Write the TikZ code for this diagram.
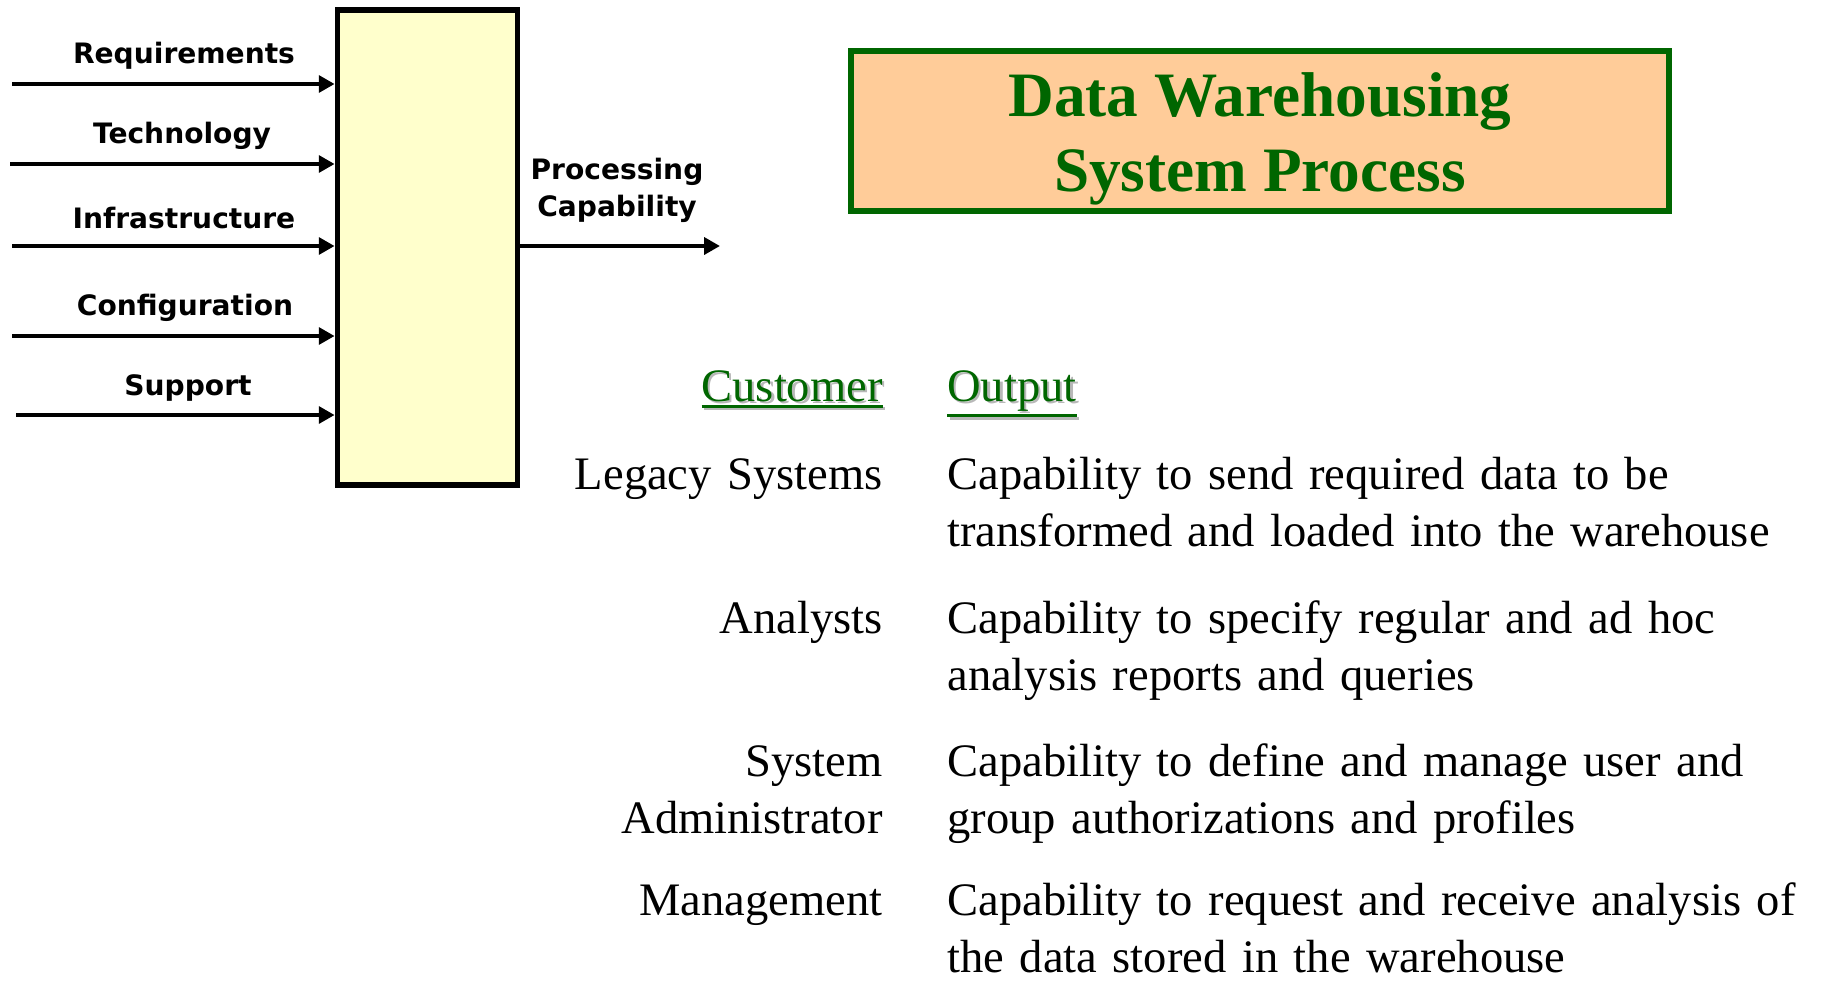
\documentclass[tikz,border=0pt]{standalone}
\usepackage{fontspec}
\setmainfont{Liberation Serif}
\newfontfamily\lblfont{DejaVu Sans}
\usepackage{tikz}
\usetikzlibrary{arrows.meta,positioning}
\definecolor{dwgreen}{RGB}{0,102,0}
\definecolor{dwpeach}{RGB}{255,204,153}
\definecolor{dwyellow}{RGB}{255,255,204}
\newcommand{\hdul}[1]{\vtop{\hbox{#1}\kern2pt\hrule height 1.6pt}}
\newcommand{\hdtext}[1]{\makebox[0pt][l]{\kern1.3pt\raisebox{-1.3pt}{\color{black!28}\hdul{#1}}}\hdul{#1}}
\tikzstyle{arrow} = [line width=2.8pt,-{Triangle[length=9pt,width=9.5pt]}]
\tikzstyle{inlabel} = [font=\lblfont\bfseries\fontsize{16}{21}\selectfont, align=center, inner sep=0pt]
\tikzstyle{process} = [rectangle, draw=black, line width=3pt, fill=dwyellow, inner sep=0pt, minimum width=3.61cm, minimum height=9.5cm]
\tikzstyle{titlebox} = [rectangle, draw=dwgreen, line width=3pt, fill=dwpeach, inner sep=0pt, minimum width=16.36cm, minimum height=3.2cm]
\tikzstyle{titletext} = [text=dwgreen, font=\bfseries\fontsize{36}{43}\selectfont, align=center, inner sep=0pt]
\tikzstyle{head} = [text=dwgreen, font=\fontsize{26.5}{33}\selectfont, inner sep=0pt]
\tikzstyle{cust} = [anchor=base east, text width=9cm, align=right, font=\fontsize{26.5}{33}\selectfont, inner sep=0pt]
\tikzstyle{outp} = [anchor=base west, text width=17.5cm, align=left, font=\fontsize{26.5}{33}\selectfont, inner sep=0pt]

\begin{document}
\begin{tikzpicture}[x=0.02cm, y=-0.02cm]
\useasboundingbox (0,0) rectangle (1822,984);

% Process box and title
\node (box) [process] at (427.5,247.5) {};
\node (title) [titlebox] at (1260,131) {};
\node (titletext) [titletext] at (1260,139) {Data Warehousing\\System Process};

% Inputs
\node (req) [inlabel] at (184,56) {Requirements};
\node (tech) [inlabel] at (182,136) {Technology};
\node (infra) [inlabel] at (184,218) {Infrastructure};
\node (config) [inlabel] at (185,308) {Configuration};
\node (support) [inlabel] at (188,388) {Support};

\coordinate (reqIn) at (12,84);
\coordinate (techIn) at (10,164);
\coordinate (infraIn) at (12,246);
\coordinate (configIn) at (12,336);
\coordinate (supportIn) at (16,415);

\draw[arrow] (reqIn) -- (reqIn -| box.west);
\draw[arrow] (techIn) -- (techIn -| box.west);
\draw[arrow] (infraIn) -- (infraIn -| box.west);
\draw[arrow] (configIn) -- (configIn -| box.west);
\draw[arrow] (supportIn) -- (supportIn -| box.west);

% Output
\node (proc) [inlabel] at (617,190) {Processing\\Capability};
\coordinate (procOut) at (720,246);
\draw[arrow] (box.east |- procOut) -- (procOut);

% Customer / output table
\node (hcust) [head, anchor=base east] at (883,401) {\hdtext{Customer}};
\node (hout) [head, anchor=base west] at (947,401) {\hdtext{Output}};

\node (legacy) [cust] at (883,489) {Legacy Systems};
\node (legacyOut) [outp] at (947,489) {Capability to send required data to be\\transformed and loaded into the warehouse};

\node (analysts) [cust] at (883,633) {Analysts};
\node (analystsOut) [outp] at (947,633) {Capability to specify regular and ad hoc\\analysis reports and queries};

\node (sysadm) [cust] at (883,776) {System\\Administrator};
\node (sysadmOut) [outp] at (947,776) {Capability to define and manage user and\\group authorizations and profiles};

\node (mgmt) [cust] at (883,915) {Management};
\node (mgmtOut) [outp] at (947,915) {Capability to request and receive analysis of\\the data stored in the warehouse};
\end{tikzpicture}
\end{document}
